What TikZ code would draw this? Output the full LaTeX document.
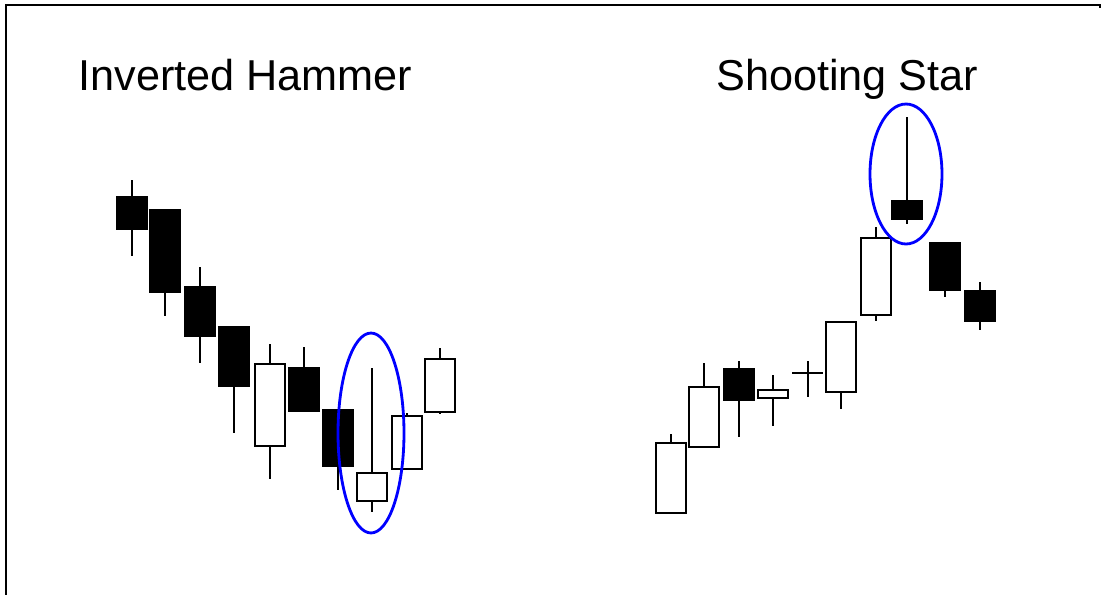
\documentclass[tikz,border=0pt]{standalone}
\usepackage{fontspec}
\setmainfont{Liberation Sans}

\begin{document}
\begin{tikzpicture}[x=0.02cm, y=-0.02cm]
\tikzset{every node/.style={inner sep=0pt, font=\fontsize{24.6}{28}\selectfont},
         wick/.style={line width=1.4pt},
         body/.style={draw=black, line width=1.3pt},
         ring/.style={draw=blue, line width=1.6pt}}

\useasboundingbox (0,0) rectangle (1103,595);
\draw [line width=1.2pt] (6,595) -- (6,5) -- (1100,5) -- (1100,8);

\node (ihtitle) [anchor=base west] at (78,90) {Inverted Hammer};
\node (sstitle) [anchor=base west] at (716,90) {Shooting Star};

% left chart: centre / body top / body bottom / wick top / wick bottom / fill
\foreach \cx/\bt/\bb/\wt/\wb/\fc in {132/197/229/180/256/black, 165/210/292/210/316/black,
    200/287/336/267/363/black, 234/327/386/327/433/black, 270/364/446/344/479/white,
    304/368/411/347/411/black, 338/410/466/410/490/black, 372/473/501/368/512/white,
    407/416/469/413/469/white, 440/359/412/348/414/white}
{
  \draw [wick] (\cx,\wt) -- (\cx,\wb);
  \draw [body, fill=\fc] (\cx-15,\bt) rectangle (\cx+15,\bb);
}
\draw [ring] (371,433) ellipse [x radius=0.66cm, y radius=2cm];

% right chart
\foreach \cx/\bt/\bb/\wt/\wb/\fc in {671/443/513/434/513/white, 704/387/447/363/447/white,
    739/369/400/361/437/black, 773/390/398/375/426/white, 841/322/392/322/409/white,
    876/238/315/227/321/white, 907/201/219/117/224/black, 945/243/290/243/297/black,
    980/291/321/282/330/black}
{
  \draw [wick] (\cx,\wt) -- (\cx,\wb);
  \draw [body, fill=\fc] (\cx-15,\bt) rectangle (\cx+15,\bb);
}
\draw [wick] (792,373) -- (823,373);
\draw [wick] (808,361) -- (808,397);
\draw [ring] (906,174) ellipse [x radius=0.72cm, y radius=1.4cm];
\end{tikzpicture}
\end{document}
